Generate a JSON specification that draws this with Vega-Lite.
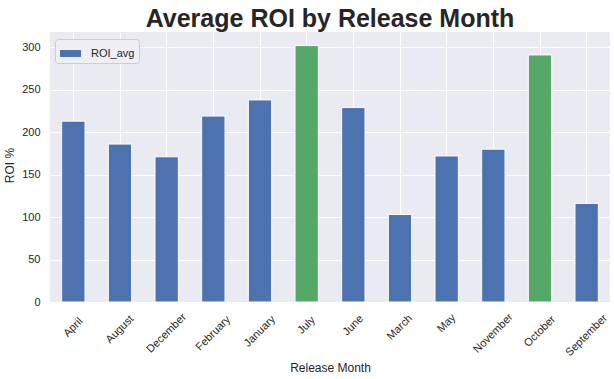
{
  "$schema": "https://vega.github.io/schema/vega-lite/v6.json",
  "autosize": "none",
  "width": 560,
  "height": 270,
  "padding": {"left": 50, "top": 32, "right": 4, "bottom": 77},
  "background": "white",
  "title": {
    "text": "Average ROI by Release Month",
    "font": "Liberation Sans",
    "fontSize": 25,
    "fontWeight": "bold",
    "color": "#262626",
    "anchor": "middle",
    "offset": 0
  },
  "data": {
    "values": [
      {"month": "April", "ROI_avg": 213, "group": "ROI_avg"},
      {"month": "August", "ROI_avg": 186, "group": "ROI_avg"},
      {"month": "December", "ROI_avg": 171, "group": "ROI_avg"},
      {"month": "February", "ROI_avg": 219, "group": "ROI_avg"},
      {"month": "January", "ROI_avg": 238, "group": "ROI_avg"},
      {"month": "July", "ROI_avg": 302, "group": "top"},
      {"month": "June", "ROI_avg": 229, "group": "ROI_avg"},
      {"month": "March", "ROI_avg": 103, "group": "ROI_avg"},
      {"month": "May", "ROI_avg": 172, "group": "ROI_avg"},
      {"month": "November", "ROI_avg": 180, "group": "ROI_avg"},
      {"month": "October", "ROI_avg": 291, "group": "top"},
      {"month": "September", "ROI_avg": 116, "group": "ROI_avg"}
    ]
  },
  "mark": {"type": "bar", "stroke": "white", "strokeWidth": 1},
  "encoding": {
    "x": {
      "field": "month",
      "type": "nominal",
      "sort": null,
      "scale": {"paddingInner": 0.5, "paddingOuter": 0.25},
      "axis": {
        "title": "Release Month",
        "titleFont": "Liberation Sans",
        "titleFontSize": 12,
        "titleFontWeight": "normal",
        "titleColor": "#262626",
        "titleBaseline": "alphabetic",
        "titleY": 69,
        "titleAnchor": "middle",
        "labelFont": "Liberation Sans",
        "labelFontSize": 11,
        "labelColor": "#262626",
        "labelAngle": -45,
        "labelAlign": "center",
        "labelBaseline": "middle",
        "labelPadding": {
          "condition": [
            {"test": "length(datum.label) == 3", "value": 21},
            {"test": "length(datum.label) == 4", "value": 23},
            {"test": "length(datum.label) == 5", "value": 25},
            {"test": "length(datum.label) == 6", "value": 27},
            {"test": "length(datum.label) == 7", "value": 29},
            {"test": "length(datum.label) == 8", "value": 31}
          ],
          "value": 33
        },
        "labelOverlap": false,
        "ticks": false,
        "tickSize": 0,
        "domain": false,
        "grid": true,
        "gridColor": "white",
        "gridWidth": 1
      }
    },
    "y": {
      "field": "ROI_avg",
      "type": "quantitative",
      "scale": {"domain": [0, 318], "nice": false, "zero": true},
      "axis": {
        "title": "ROI %",
        "values": [0, 50, 100, 150, 200, 250, 300],
        "titleFont": "Liberation Sans",
        "titleFontSize": 12,
        "titleFontWeight": "normal",
        "titleColor": "#262626",
        "titleBaseline": "middle",
        "titleX": -41,
        "titleY": 133,
        "titleAngle": -90,
        "labelFont": "Liberation Sans",
        "labelFontSize": 11,
        "labelColor": "#262626",
        "labelPadding": 10,
        "ticks": false,
        "tickSize": 0,
        "domain": false,
        "grid": true,
        "gridColor": "white",
        "gridWidth": 1
      }
    },
    "color": {
      "field": "group",
      "type": "nominal",
      "scale": {"domain": ["ROI_avg", "top"], "range": ["#4C72B0", "#55A868"]},
      "legend": {
        "title": null,
        "values": ["ROI_avg"],
        "orient": "none",
        "legendX": 5,
        "legendY": 7,
        "padding": 4,
        "fillColor": "#EEEEF4",
        "strokeColor": "#CCCCCC",
        "cornerRadius": 3,
        "symbolType": "M-1,-0.33H1V0.33H-1Z",
        "symbolSize": 441,
        "symbolStrokeWidth": 0,
        "symbolOffset": 1,
        "labelFont": "Liberation Sans",
        "labelFontSize": 11,
        "labelColor": "#262626",
        "labelOffset": 10
      }
    }
  },
  "config": {
    "view": {"fill": "#EAEAF2", "stroke": null}
  }
}
